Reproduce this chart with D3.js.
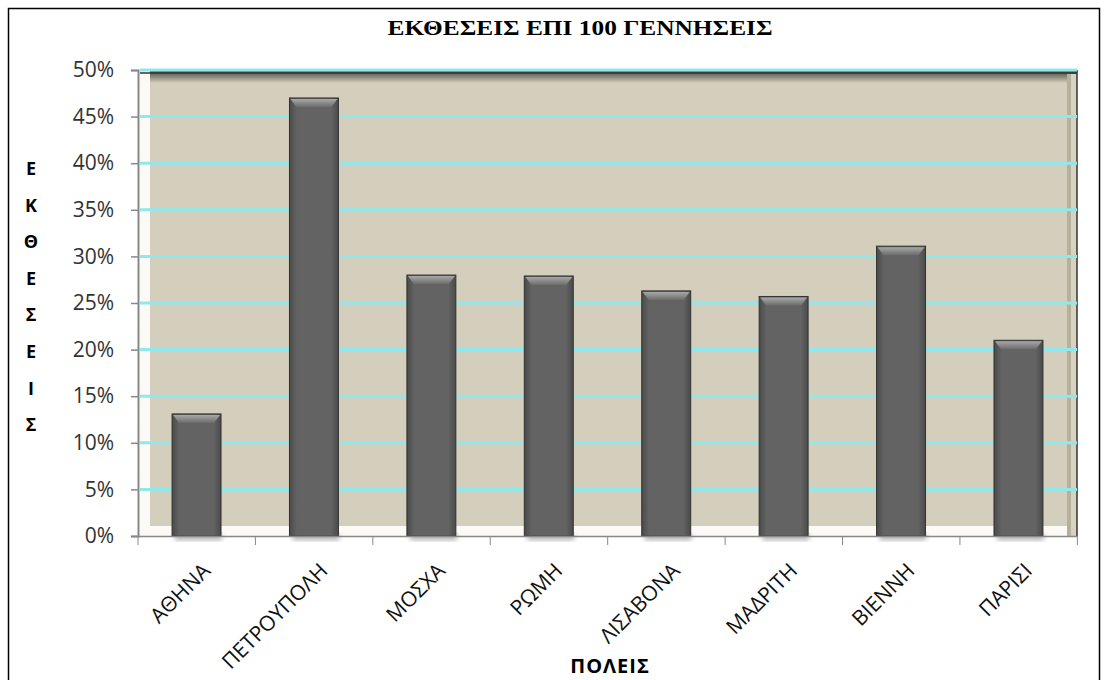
<!DOCTYPE html>
<html>
<head>
<meta charset="utf-8">
<script src="https://cdn.jsdelivr.net/npm/d3@7"></script>
<style>
  body { margin: 0; background: #fff; }
  svg { display: block; }
</style>
</head>
<body>
<svg width="1106" height="680"></svg>
<script>
// cities and exposure rates (%)
const cities = ["ΑΘΗΝΑ", "ΠΕΤΡΟΥΠΟΛΗ", "ΜΟΣΧΑ", "ΡΩΜΗ", "ΛΙΣΑΒΟΝΑ", "ΜΑΔΡΙΤΗ", "ΒΙΕΝΝΗ", "ΠΑΡΙΣΙ"];
const rates = [13.1, 47.0, 28.0, 27.9, 26.3, 25.7, 31.1, 21.0];
const yTicks = [0, 5, 10, 15, 20, 25, 30, 35, 40, 45, 50];
const yTitle = ["Ε", "Κ", "Θ", "Ε", "Σ", "Ε", "Ι", "Σ"];

const svg = d3.select("svg");
const pLeft = 138, pRight = 1077, pTop = 70, pBottom = 536;

const x = d3.scaleBand().domain(cities).range([pLeft, pRight]).paddingInner(0.583).paddingOuter(0.29);
const y = d3.scaleLinear().domain([0, 50]).range([pBottom, pTop]);

const defs = svg.append("defs");
const topGrad = defs.append("linearGradient").attr("id", "topEdge").attr("x1", 0).attr("y1", 0).attr("x2", 0).attr("y2", 1);
topGrad.append("stop").attr("offset", 0).attr("stop-color", "#3c3c34");
topGrad.append("stop").attr("offset", 1).attr("stop-color", "#d4cebc");
const barGrad = defs.append("linearGradient").attr("id", "barFill").attr("x1", 0).attr("y1", 0).attr("x2", 1).attr("y2", 0);
barGrad.append("stop").attr("offset", 0).attr("stop-color", "#4a4a4a");
barGrad.append("stop").attr("offset", 0.15).attr("stop-color", "#636363");
barGrad.append("stop").attr("offset", 0.85).attr("stop-color", "#636363");
barGrad.append("stop").attr("offset", 1).attr("stop-color", "#4a4a4a");
const capGrad = defs.append("linearGradient").attr("id", "capFill").attr("x1", 0).attr("y1", 0).attr("x2", 0).attr("y2", 1);
capGrad.append("stop").attr("offset", 0).attr("stop-color", "#a8a8a8");
capGrad.append("stop").attr("offset", 1).attr("stop-color", "#6c6c6c");
const blur = defs.append("filter").attr("id", "soft").attr("x", "-20%").attr("y", "-20%").attr("width", "140%").attr("height", "140%");
blur.append("feGaussianBlur").attr("stdDeviation", 2.5);

// outer frame
svg.append("rect").attr("x", 8.5).attr("y", 8.5).attr("width", 1091).attr("height", 690)
  .attr("fill", "none").attr("stroke", "#000").attr("stroke-width", 1.5);

// plot background with bevelled edges
const pg = svg.append("g");
pg.append("rect").attr("x", pLeft + 2).attr("y", pTop).attr("width", pRight - pLeft - 2).attr("height", pBottom - pTop)
  .attr("fill", "#d4cebc");
pg.append("rect").attr("x", pLeft + 2).attr("y", pTop).attr("width", pRight - pLeft - 2).attr("height", 13)
  .attr("fill", "url(#topEdge)");
pg.append("rect").attr("x", pLeft + 2).attr("y", pTop).attr("width", 10).attr("height", pBottom - pTop)
  .attr("fill", "#fbfaf6");
pg.append("rect").attr("x", pLeft + 2).attr("y", pBottom - 10).attr("width", pRight - pLeft - 2).attr("height", 10)
  .attr("fill", "#fbfaf6");
pg.append("rect").attr("x", pRight - 10).attr("y", pTop + 4).attr("width", 4).attr("height", pBottom - pTop - 4)
  .attr("fill", "#b7b09c");
pg.append("rect").attr("x", pRight - 6).attr("y", pTop + 4).attr("width", 6).attr("height", pBottom - pTop - 4)
  .attr("fill", "#d8d2c0");
pg.append("line").attr("x1", pRight).attr("x2", pRight).attr("y1", pTop).attr("y2", pBottom)
  .attr("stroke", "#333").attr("stroke-width", 1.5);
pg.append("line").attr("x1", pLeft + 2).attr("x2", pRight).attr("y1", pTop + 3).attr("y2", pTop + 3)
  .attr("stroke", "#333").attr("stroke-width", 1.5);

// grid lines with shadows
const grid = svg.append("g");
yTicks.filter(d => d > 0).forEach(t => {
  grid.append("line").attr("x1", pLeft + 12).attr("x2", pRight + 8).attr("y1", y(t) + 6).attr("y2", y(t) + 6)
    .attr("stroke", "#a59e8c").attr("stroke-width", 5).attr("opacity", 0.55).attr("filter", "url(#soft)");
  grid.append("line").attr("x1", pLeft + 2).attr("x2", pRight).attr("y1", y(t)).attr("y2", y(t))
    .attr("stroke", "#8ee8ec").attr("stroke-width", 3);
});

// bars
const bars = svg.append("g").selectAll("g").data(rates).enter().append("g");
bars.append("rect")
  .attr("x", (d, i) => x(cities[i]) + 3).attr("y", pBottom - 2).attr("width", x.bandwidth() - 2).attr("height", 6)
  .attr("fill", "#777").attr("opacity", 0.6).attr("filter", "url(#soft)");
bars.append("rect")
  .attr("x", (d, i) => x(cities[i])).attr("y", d => y(d))
  .attr("width", x.bandwidth()).attr("height", d => pBottom - y(d))
  .attr("fill", "url(#barFill)").attr("stroke", "#333").attr("stroke-width", 1);
bars.append("path")
  .attr("d", (d, i) => {
    const x0 = x(cities[i]) + 1, x1 = x0 + x.bandwidth() - 2, y0 = y(d) + 1;
    return `M${x0},${y0}H${x1}L${x1 - 6},${y0 + 8}H${x0 + 6}Z`;
  })
  .attr("fill", "url(#capFill)");

// y axis
const yAxis = svg.append("g").attr("transform", `translate(${pLeft},0)`)
  .call(d3.axisLeft(y).tickValues(yTicks).tickSize(7).tickPadding(17).tickFormat(d => d + "%"));
yAxis.select(".domain").attr("stroke", "#888").attr("stroke-width", 2);
yAxis.selectAll(".tick line").attr("stroke", "#888").attr("stroke-width", 1.5);
yAxis.selectAll("text").attr("font-family", "Open Sans, sans-serif").attr("font-size", 21).attr("fill", "#333");

// x axis
const xAxis = svg.append("g").attr("transform", `translate(0,${pBottom})`)
  .call(d3.axisBottom(x).tickSize(0).tickFormat(""));
xAxis.select(".domain").attr("stroke", "#888").attr("stroke-width", 1.5);
const step = x.step();
xAxis.selectAll(".xt").data(d3.range(cities.length + 1)).enter().append("line")
  .attr("x1", i => pLeft + i * step).attr("x2", i => pLeft + i * step).attr("y1", 0).attr("y2", 9)
  .attr("stroke", "#888").attr("stroke-width", 1);
xAxis.selectAll(".xl").data(cities).enter().append("text")
  .attr("transform", d => `translate(${x(d) + x.bandwidth() / 2 + 15},${36}) rotate(-45)`)
  .attr("text-anchor", "end")
  .attr("font-family", "Open Sans, sans-serif").attr("font-size", 21).attr("fill", "#111")
  .text(d => d);

// titles
svg.append("text").attr("x", 580).attr("y", 35).attr("text-anchor", "middle")
  .attr("font-family", "Liberation Serif, serif").attr("font-weight", "bold").attr("font-size", 21)
  .attr("textLength", 385).attr("lengthAdjust", "spacingAndGlyphs")
  .text("ΕΚΘΕΣΕΙΣ ΕΠΙ 100 ΓΕΝΝΗΣΕΙΣ");
svg.append("g").selectAll("text").data(yTitle).enter().append("text")
  .attr("x", 31).attr("y", (d, i) => 175 + i * 36.6).attr("text-anchor", "middle")
  .attr("font-family", "Open Sans, sans-serif").attr("font-weight", "bold").attr("font-size", 18)
  .text(d => d);
svg.append("text").attr("x", 610).attr("y", 673).attr("text-anchor", "middle")
  .attr("font-family", "Open Sans, sans-serif").attr("font-weight", "bold").attr("font-size", 20)
  .attr("letter-spacing", 1)
  .text("ΠΟΛΕΙΣ");
</script>
</body>
</html>
